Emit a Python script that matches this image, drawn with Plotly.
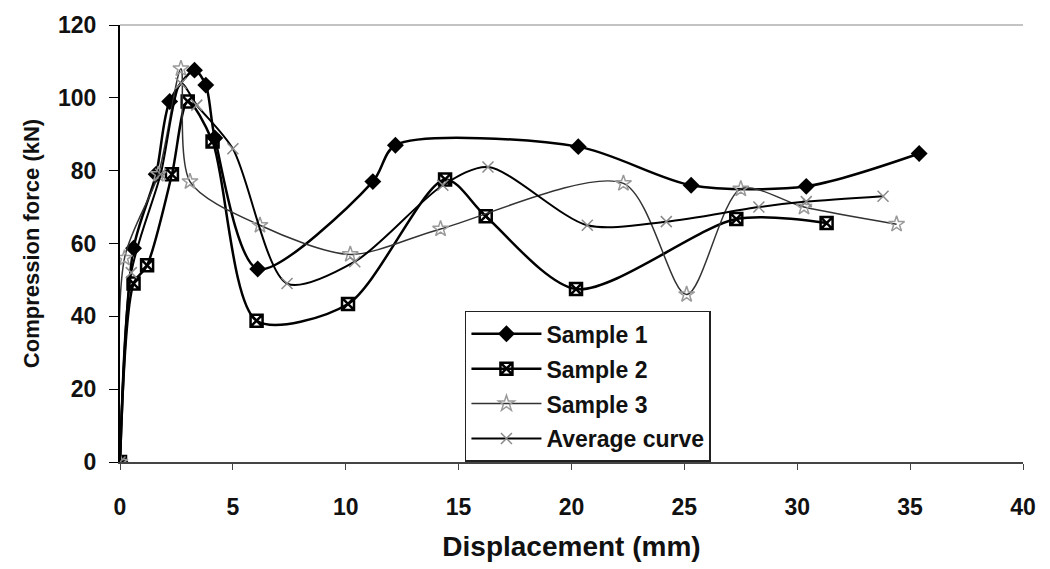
import plotly.graph_objects as go

# ---- data ----
s1_x = [0, 0.6, 1.6, 2.2, 3.3, 3.8, 4.2, 6.1, 11.2, 12.2, 20.3, 25.3, 30.4, 35.4]
s1_y = [0, 58.7, 79, 99, 107.6, 103.5, 89, 53, 77, 87, 86.6, 76, 75.7, 84.7]

s2_x = [0, 0.6, 1.2, 2.3, 3.0, 4.1, 6.05, 10.1, 14.4, 16.2, 20.2, 27.3, 31.3]
s2_y = [0, 49, 54, 79, 99, 88, 38.8, 43.4, 77.6, 67.5, 47.5, 66.7, 65.6]

s3_x = [0, 0.2, 1.7, 2.7, 3.1, 6.2, 10.2, 14.2, 22.3, 25.1, 27.5, 30.3, 34.4]
s3_y = [0, 56, 79, 108, 77, 65, 57, 64, 76.5, 46, 75, 70, 65.3]

avg_x = [0, 0.5, 1.8, 2.7, 3.4, 5.0, 7.4, 10.4, 14.3, 16.3, 20.7, 24.2, 28.3, 30.4, 33.8]
avg_y = [0, 52, 79, 104, 98, 86, 49, 55, 76, 81, 65, 66, 70, 71.5, 73]

x_ticks = [0, 5, 10, 15, 20, 25, 30, 35, 40]
y_ticks = [0, 20, 40, 60, 80, 100, 120]

FONT = "Liberation Sans, Arial, sans-serif"

fig = go.Figure()

fig.add_trace(go.Scatter(
    x=s1_x, y=s1_y, name="Sample 1", mode="lines+markers",
    line=dict(color="black", width=2.5, shape="spline", smoothing=0.8),
    marker=dict(symbol="diamond", size=13, color="black"),
    legendgroup="a"))
fig.add_trace(go.Scatter(
    x=s2_x, y=s2_y, name="Sample 2", mode="lines+markers",
    line=dict(color="black", width=2.5, shape="spline", smoothing=0.8),
    marker=dict(symbol="square-x-open", size=12, color="black", line=dict(width=2.5)),
    legendgroup="b"))
fig.add_trace(go.Scatter(
    x=s3_x, y=s3_y, name="Sample 3", mode="lines+markers",
    line=dict(color="#333333", width=1.5, shape="spline", smoothing=0.8),
    marker=dict(symbol="star-open", size=12, color="#9a9a9a", line=dict(width=1.5)),
    legendgroup="c"))
fig.add_trace(go.Scatter(
    x=avg_x, y=avg_y, name="Average curve", mode="lines+markers",
    line=dict(color="black", width=2, shape="spline", smoothing=0.8),
    marker=dict(symbol="x-thin-open", size=11, color="#8a8a8a", line=dict(width=1.5)),
    legendgroup="d"))

fig.update_layout(
    width=1050, height=569,
    margin=dict(l=120, r=27, t=23, b=107),
    paper_bgcolor="white", plot_bgcolor="white",
    font=dict(family=FONT, size=23, color="#111111", weight="bold"),
    showlegend=True,
    legend=dict(
        x=0.382, y=0.346, xanchor="left", yanchor="top",
        bgcolor="white", bordercolor="#222222", borderwidth=1.5,
        font=dict(family=FONT, size=23, color="#111111", weight="bold"),
        traceorder="grouped", tracegroupgap=2,
        itemwidth=70,
    ),
    xaxis=dict(
        range=[0, 40], tickvals=x_ticks, ticktext=[str(v) for v in x_ticks],
        showgrid=False, zeroline=False,
        showline=True, linecolor="#444444", linewidth=1.5,
        ticks="outside", ticklen=6, tickcolor="#444444",
        ticklabelstandoff=18,
        tickfont=dict(size=23),
        title=dict(text="Displacement (mm)", font=dict(family=FONT, size=28, weight="bold"),
                   standoff=17),
    ),
    yaxis=dict(
        range=[0, 120], tickvals=y_ticks, ticktext=[str(v) for v in y_ticks],
        showgrid=False, zeroline=False,
        showline=True, linecolor="black", linewidth=2,
        ticks="outside", ticklen=9, tickcolor="black",
        ticklabelstandoff=8,
        tickfont=dict(size=23),
        title=dict(text="Compression force (kN)", font=dict(family=FONT, size=22, weight="bold"),
                   standoff=12),
    ),
    shapes=[dict(type="line", xref="paper", yref="paper", x0=0, x1=1, y0=1, y1=1,
                 line=dict(color="#888888", width=1.2))],
)

fig.write_html("out.html")
